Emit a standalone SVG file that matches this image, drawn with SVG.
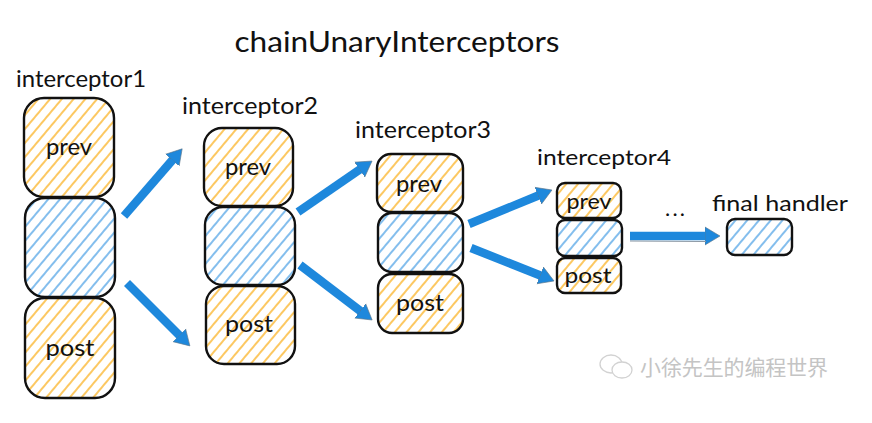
<svg xmlns="http://www.w3.org/2000/svg" width="872" height="423" viewBox="0 0 872 423">
<style>
.box{stroke:#111;stroke-width:2.4}
.o{fill:url(#hO)}
.b{fill:url(#hB)}
text{font-family:"Lato","Liberation Sans","Noto Sans CJK SC",sans-serif;fill:#111;text-anchor:middle}
.lbl{font-size:22px}
.in{font-size:23px}
.arrow{stroke:#1e88dc;stroke-width:8.5;fill:none;marker-end:url(#ah)}
.shadow{stroke:#8a97a3;stroke-width:1;fill:none}
</style>
<defs>
<pattern id="hO" width="9" height="9" patternUnits="userSpaceOnUse" patternTransform="rotate(-50)">
<rect width="9" height="9" fill="#fff"/><line x1="0" y1="3" x2="9" y2="3" stroke="#fbb62d" stroke-width="1.5"/>
</pattern>
<pattern id="hB" width="9" height="9" patternUnits="userSpaceOnUse" patternTransform="rotate(-50)">
<rect width="9" height="9" fill="#fff"/><line x1="0" y1="3" x2="9" y2="3" stroke="#5ba9e8" stroke-width="1.5"/>
</pattern>
<marker id="ah" markerUnits="userSpaceOnUse" markerWidth="18" markerHeight="20" refX="1" refY="10" orient="auto">
<path d="M0 1L15 10L0 19Z" fill="#1e88dc" stroke="#5f7688" stroke-width=".6"/>
</marker>
</defs>
<rect width="872" height="423" fill="#fff"/>
<text x="397" y="52" style="font-size:28px" textLength="325" lengthAdjust="spacingAndGlyphs">chainUnaryInterceptors</text>
<g id="interceptor1">
<text class="in" x="81" y="87" textLength="130" lengthAdjust="spacingAndGlyphs">interceptor1</text>
<rect class="box o" x="24" y="98" width="90" height="99" rx="20"/>
<rect class="box b" x="25" y="198" width="90" height="99" rx="20"/>
<rect class="box o" x="25" y="298" width="90" height="100" rx="20"/>
<text class="in" x="69" y="155" textLength="46" lengthAdjust="spacingAndGlyphs">prev</text>
<text class="in" x="70" y="356" textLength="49" lengthAdjust="spacingAndGlyphs">post</text>
</g>
<g id="interceptor2">
<text class="in" x="250" y="114" textLength="136" lengthAdjust="spacingAndGlyphs">interceptor2</text>
<rect class="box o" x="204" y="128" width="89" height="78" rx="18"/>
<rect class="box b" x="205" y="207" width="90" height="78" rx="18"/>
<rect class="box o" x="206" y="286" width="89" height="78" rx="18"/>
<text class="in" x="248" y="175" textLength="46" lengthAdjust="spacingAndGlyphs">prev</text>
<text class="in" x="249" y="332" textLength="48" lengthAdjust="spacingAndGlyphs">post</text>
</g>
<g id="interceptor3">
<text class="in" x="423" y="138" textLength="136" lengthAdjust="spacingAndGlyphs">interceptor3</text>
<rect class="box o" x="377" y="154" width="86" height="58" rx="14"/>
<rect class="box b" x="378" y="213" width="85" height="59" rx="14"/>
<rect class="box o" x="378" y="274" width="85" height="59" rx="14"/>
<text class="in" x="419" y="192" textLength="46" lengthAdjust="spacingAndGlyphs">prev</text>
<text class="in" x="420" y="311" textLength="48" lengthAdjust="spacingAndGlyphs">post</text>
</g>
<g id="interceptor4">
<text class="lbl" x="604" y="165" textLength="134" lengthAdjust="spacingAndGlyphs">interceptor4</text>
<rect class="box o" x="557" y="183" width="64" height="35" rx="8"/>
<rect class="box b" x="557" y="220" width="65" height="36" rx="8"/>
<rect class="box o" x="557" y="258" width="64" height="35" rx="8"/>
<text class="lbl" x="589" y="209" textLength="45" lengthAdjust="spacingAndGlyphs">prev</text>
<text class="lbl" x="588" y="283" textLength="47" lengthAdjust="spacingAndGlyphs">post</text>
</g>
<g id="final-handler">
<text class="lbl" x="780" y="211" textLength="136" lengthAdjust="spacingAndGlyphs">final handler</text>
<rect class="box b" x="727" y="219" width="65" height="36" rx="8"/>
</g>
<text class="lbl" x="675" y="216" textLength="20" lengthAdjust="spacing">...</text>
<g id="connectors">
<line class="arrow" x1="124" y1="216" x2="173" y2="159.4"/>
<line class="arrow" x1="127" y1="283" x2="180" y2="336"/>
<line class="arrow" x1="298" y1="212" x2="360.5" y2="169"/>
<line class="arrow" x1="300" y1="265" x2="361" y2="311.5"/>
<line class="arrow" x1="469" y1="224" x2="539" y2="195.3"/>
<line class="arrow" x1="471" y1="248" x2="541" y2="275.8"/>
<line class="arrow" x1="630" y1="236" x2="706" y2="236"/>
<path class="shadow" d="M630 241L706 241.5"/>
</g>
<g id="watermark" fill="none" stroke="#d2d2d2" stroke-width="1.3">
<ellipse cx="611" cy="364" rx="11" ry="9"/>
<ellipse cx="622" cy="370" rx="10" ry="8" fill="#fff"/>
<text x="734" y="375" textLength="188" lengthAdjust="spacing" stroke="none" style="font-size:21px;fill:#c4c4c4;font-family:'Noto Sans CJK SC',sans-serif">小徐先生的编程世界</text>
</g>
</svg>
